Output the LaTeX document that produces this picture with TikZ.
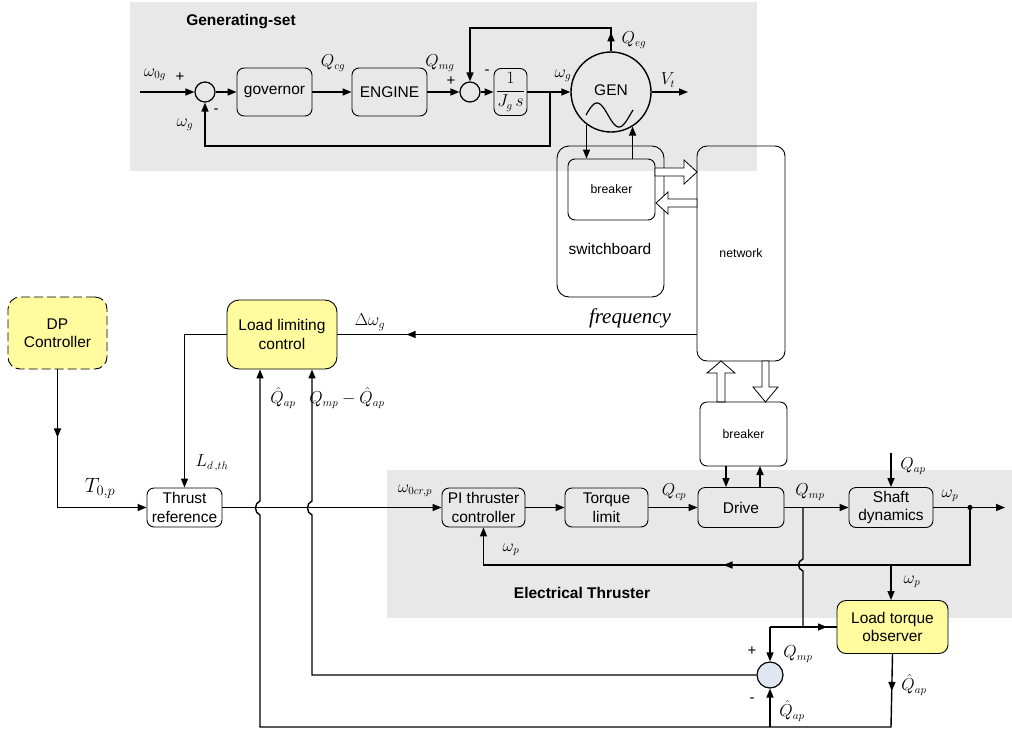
\documentclass[tikz,border=0pt]{standalone}
\usepackage{fontspec}
\setmainfont{Liberation Sans}
\newfontfamily\timesfam{Liberation Serif}
\usetikzlibrary{arrows.meta,decorations.markings}

\definecolor{panel}{HTML}{E8E8E8}
\definecolor{note}{HTML}{FFFB9E}
\definecolor{sumfill}{HTML}{E1E7F2}

\begin{document}
\begin{tikzpicture}[x=1pt,y=-1pt,
  >={Triangle[length=9pt,width=7pt]},
  blk/.style={draw, line width=0.9pt, rounded corners=7pt, align=center,
    inner sep=0pt, font=\fontsize{15.5}{18.5}\selectfont},
  hl/.style={blk, fill=note, rounded corners=12pt},
  sm/.style={font=\fontsize{12.3}{14}\selectfont},
  sumnode/.style={circle, draw, line width=1.2pt, inner sep=0pt, minimum size=20pt},
  wire/.style={line width=1.4pt},
  flow/.style={wire, ->},
  midarrow/.style={postaction={decorate}, decoration={markings,
    mark=at position #1 with {\arrow{>}}}},
  lbl/.style={inner sep=0pt, font=\fontsize{16}{18}\selectfont},
  sign/.style={inner sep=0pt, font=\fontsize{15}{17}\selectfont},
  hollow/.style={draw, line width=0.8pt, fill=white, line join=miter},
  title/.style={inner sep=0pt, font=\bfseries\fontsize{15.5}{17}\selectfont}]

\useasboundingbox (0,0) rectangle (1012,731);
\fill[white] (0,0) rectangle (1012,731);

% ---------- panels ----------
\fill[panel] (130,2) rectangle (757,171);
\fill[panel] (387,470) rectangle (1012,618);
\node[title] (gstitle) at (241,22) {Generating-set};
\node[title] (ettitle) at (582,593) {Electrical Thruster};

% ---------- generating set ----------
\node[sumnode] (s1) at (205,92) {};
\node[blk, minimum width=75, minimum height=48] (gov) at (274.5,92) {governor};
\node[blk, minimum width=75, minimum height=48] (eng) at (389.5,92) {ENGINE};
\node[sumnode] (s2) at (470,92) {};
\node[blk, minimum width=33, minimum height=47] (ig) at (510.5,92)
  {\fontsize{16}{18}\selectfont$\displaystyle\frac{1}{J_{g}\,s}$};
\node[circle, draw, line width=1.4pt, minimum size=80, inner sep=0pt] (gen) at (611,92) {};
\node[inner sep=0pt, font=\fontsize{15.5}{17}\selectfont] (gentxt) at (611,90) {GEN};
\draw[line width=1.2pt] plot[domain=0:1.07, samples=60, smooth]
  ({586+44*\x}, {115-12*sin(360*\x)});

\coordinate (win) at (140,92);
\draw[flow] (win) -- (s1);
\node[lbl] (lw0g) at (155,75) {$\omega_{0g}$};
\node[sign] (p1) at (180,77) {+};
\draw[flow] (s1) -- (gov);
\draw[flow] (gov) -- (eng);
\node[lbl] (lqcg) at (333,63) {$Q_{cg}$};
\draw[flow] (eng) -- (s2);
\node[lbl] (lqmg) at (440,63) {$Q_{mg}$};
\node[sign] (p2) at (451,81) {+};
\draw[flow] (s2) -- (ig);
\draw[flow] (ig) -- (gen);
\node[lbl] (lwg) at (563,76) {$\omega_{g}$};
\coordinate (vt) at (688,92);
\draw[flow] (gen) -- (vt);
\node[lbl] (lvt) at (668,80) {$V_{t}$};
\coordinate (qe) at (611,28);
\draw[flow, midarrow=19pt] (gen.north) -- (qe) -| (s2.north);
\node[lbl] (lqeg) at (634,40) {$Q_{eg}$};
\node[sign] (m2) at (487,72) {-};
\coordinate (fb) at (550,92);
\coordinate (fbc) at (550,146);
\draw[flow] (fb) -- (fbc) -| (s1.south);
\node[sign] (m1) at (216,111) {-};
\node[lbl] (lwg2) at (185,125) {$\omega_{g}$};

% ---------- switchboard and network ----------
\node[blk, rounded corners=12pt, minimum width=107, minimum height=151] (sw) at (610.5,221.5) {};
\node[inner sep=0pt, font=\fontsize{15.5}{17}\selectfont] (swtxt) at (610,249) {switchboard};
\node[blk, sm, minimum width=87, minimum height=61] (b1) at (611.5,189.5) {breaker};
\node[blk, sm, rounded corners=10pt, minimum width=88, minimum height=215] (net) at (741,253.5) {network};

\draw[flow] (gen.-127) -- (gen.-127 |- b1.north);
\draw[flow] (gen.-58 |- b1.north) -- (gen.-58);

% power flow arrows
\draw[hollow] (655,168) -- (684,168) -- (684,160) -- (697,172) -- (684,184) -- (684,176) -- (655,176) -- cycle;
\draw[hollow] (697,199) -- (668,199) -- (668,192) -- (656,203) -- (668,214) -- (668,207) -- (697,207) -- cycle;
\draw[hollow] (717,402) -- (717,373) -- (707,373) -- (721,361) -- (735,373) -- (725,373) -- (725,402) -- cycle;
\draw[hollow] (762,361) -- (762,387) -- (753,387) -- (765.5,402) -- (778,387) -- (769,387) -- (769,361) -- cycle;

\node[blk, sm, minimum width=87, minimum height=64] (b2) at (743.5,434) {breaker};

% ---------- control blocks ----------
\node[hl, dash pattern=on 9pt off 4pt, minimum width=99, minimum height=72] (dp) at (57.5,333) {DP\\Controller};
\node[hl, minimum width=110, minimum height=69] (llc) at (282,334.5) {Load limiting\\control};
\node[blk, minimum width=75, minimum height=39] (thr) at (184.5,507.5) {Thrust\\reference};
\node[blk, minimum width=83, minimum height=39] (pi) at (483.5,507.5) {PI thruster\\controller};
\node[blk, minimum width=83, minimum height=39] (tl) at (606.5,507.5) {Torque\\limit};
\node[blk, minimum width=86, minimum height=40] (drive) at (741,507.5) {Drive};
\node[blk, minimum width=84, minimum height=40] (shaft) at (891,507.5) {Shaft\\dynamics};
\node[hl, rounded corners=9pt, minimum width=111, minimum height=53] (lto) at (892.5,627) {Load torque\\observer};
\node[sumnode, fill=sumfill, minimum size=26] (s3) at (770,675) {};

% ---------- thruster wiring ----------
\draw[flow, midarrow=68pt] (dp.south) |- (thr.west);
\node[lbl, font=\fontsize{21}{23}\selectfont] (lt0p) at (100,488) {$T_{0,p}$};
\draw[flow] (llc.west) -| (thr.north);
\node[lbl] (lldth) at (212,463) {$L_{d\,,th}$};
\draw[wire, midarrow=290pt] (llc.east -| net.west) -- (llc.east);
\node[lbl, font=\fontsize{18}{20}\selectfont] (ldw) at (370,322) {$\Delta\omega_{g}$};
\node[inner sep=0pt, font=\timesfam\itshape\fontsize{21}{23}\selectfont] (lfreq) at (630,318) {frequency};

\draw[flow] (thr.east) -- (pi.west);
\node[lbl] (lw0cr) at (415,491) {$\omega_{0cr,p}$};
\draw[flow] (pi.east) -- (tl.west);
\draw[flow] (tl.east) -- (drive.west);
\node[lbl] (lqcp) at (674,492) {$Q_{cp}$};
\draw[flow] (drive.east) -- (shaft.west);
\node[lbl] (lqmp) at (810,492) {$Q_{mp}$};
\coordinate (qap) at (891,453);
\draw[flow] (qap) -- (shaft.north);
\node[lbl] (lqap) at (913,466) {$Q_{ap}$};
\coordinate (wout) at (1005,507.5);
\draw[flow] (shaft.east) -- (wout);
\node[lbl] (lwp1) at (950,496) {$\omega_{p}$};

\coordinate (d1) at (726,466);
\draw[flow] (d1) -- (d1 |- drive.north);
\coordinate (d2) at (760,466);
\draw[flow] (d2 |- drive.north) -- (d2);

% speed feedback
\coordinate (dot) at (970,507.5);
\coordinate (fbr) at (970,565);
\draw[flow, midarrow=304pt] (dot) -- (fbr) -| (pi.south);
\fill (dot) circle (2.6);
\node[lbl] (lwp2) at (511,550) {$\omega_{p}$};
\coordinate (wb) at (891,565);
\draw[flow] (wb) -- (wb |- lto.north);
\node[lbl] (lwp3) at (912,582) {$\omega_{p}$};

% motor torque branch, hopping over the feedback line
\coordinate (qm) at (803,507.5);
\coordinate (qj) at (770,627);
\draw[wire] (qm) -- (803,559) .. controls (797,561) and (797,569) .. (803,571) -- (803,627);
\draw[wire, midarrow=57pt] (qj) -- (lto.west);
\draw[flow] (qj) -- (s3.north);
\node[sign] (p3) at (752,651) {+};
\node[lbl] (lqmp2) at (798,654) {$Q_{mp}$};
\node[sign] (m3) at (752,700) {-};
\node[lbl] (lqh1) at (792,711) {$\hat{Q}_{ap}$};

% estimated load torque back to the load limiter
\coordinate (bA) at (260,501);
\draw[flow, midarrow=37pt] (lto.south) -- (891,727) -- (260,727) -- (260,515)
  .. controls (254,513) and (254,503) .. (bA) -- (bA |- llc.south);
\node[lbl] (lqh2) at (914,685) {$\hat{Q}_{ap}$};
\coordinate (qb) at (770,727);
\draw[flow] (qb) -- (s3.south);

% torque difference to the load limiter
\coordinate (bB) at (312,501);
\draw[flow] (s3.west) -- (312,675) -- (312,515)
  .. controls (306,513) and (306,503) .. (bB) -- (bB |- llc.south);
\node[lbl] (lqh3) at (283,398) {$\hat{Q}_{ap}$};
\node[lbl] (ldiff) at (347,398) {$Q_{mp}-\hat{Q}_{ap}$};

\end{tikzpicture}
\end{document}
